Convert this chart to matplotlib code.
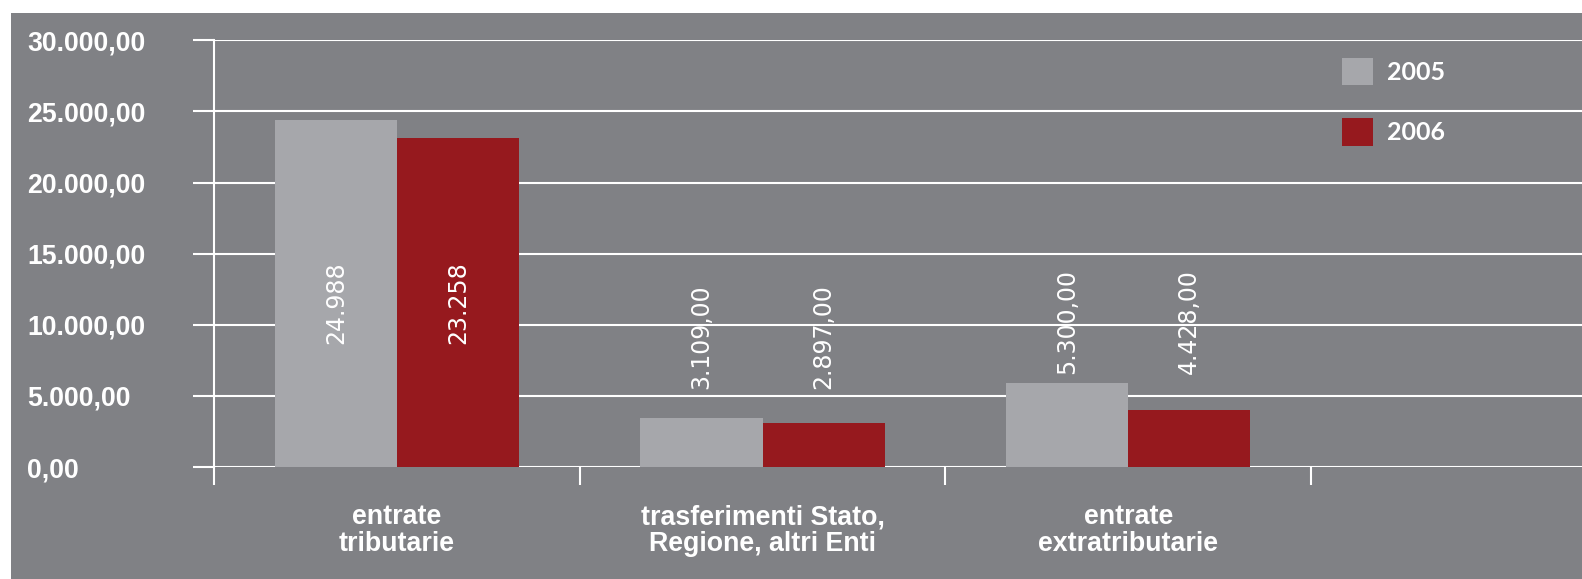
import matplotlib.pyplot as plt
from matplotlib.patches import Rectangle

# dati
categorie = ['entrate\ntributarie', 'trasferimenti Stato,\nRegione, altri Enti', 'entrate\nextratributarie']
valori_2005 = [24381, 3425, 5886]
valori_2006 = [23115, 3073, 3987]
etichette_2005 = ['24.988', '3.109,00', '5.300,00']
etichette_2006 = ['23.258', '2.897,00', '4.428,00']
tick_y = [0, 5000, 10000, 15000, 20000, 25000, 30000]
tick_y_label = ['0,00', '5.000,00', '10.000,00', '15.000,00', '20.000,00', '25.000,00', '30.000,00']
# altezza a cui stanno le etichette dei valori
pos_etichette = [11550, 5460, 6520]

sfondo = '#808185'
grigio = '#a6a7ab'
rosso = '#96191e'

W, H = 1582, 579
passo = 365.7  # larghezza in pixel di una categoria
fig = plt.figure(figsize=(W / 100, H / 100), dpi=100, facecolor='white')
fig.patches.append(Rectangle((11 / W, 0), 1 - 11 / W, 1 - 13 / H, transform=fig.transFigure,
                             facecolor=sfondo, edgecolor='none', zorder=-10))

ax = fig.add_axes([214 / W, (H - 467) / H, (W - 214) / W, (467 - 40.3) / H])
ax.set_zorder(1)
ax.patch.set_alpha(0)

x = list(range(len(categorie)))
w = 0.334
ax.bar([i - w / 2 for i in x], valori_2005, w, color=grigio, label='2005', zorder=3)
ax.bar([i + w / 2 for i in x], valori_2006, w, color=rosso, label='2006', zorder=3)

for i in x:
    ax.text(i - w / 2, pos_etichette[i], etichette_2005[i], rotation=90, color='white',
            ha='center', va='center' if i == 0 else 'bottom', fontsize=17, family='DejaVu Sans', zorder=4)
    ax.text(i + w / 2, pos_etichette[i], etichette_2006[i], rotation=90, color='white',
            ha='center', va='center' if i == 0 else 'bottom', fontsize=17, family='DejaVu Sans', zorder=4)

ax.set_ylim(0, 30000)
ax.set_xlim(-0.5, -0.5 + (W - 214) / passo)
ax.set_yticks(tick_y)
ax.set_yticklabels(tick_y_label)
for lab in ax.get_yticklabels():
    lab.set_horizontalalignment('left')
ax.tick_params(axis='y', length=21 * 0.72, width=1.5, color='white', pad=166 * 0.72,
               labelcolor='white', labelsize=19.2)
for lab in ax.get_yticklabels():
    lab.set_fontweight('bold')
    lab.set_family('Liberation Sans')
ax.yaxis.grid(True, color='white', linewidth=1.5, zorder=1)
ax.set_axisbelow(True)

ax.set_xticks([-0.5, 0.5, 1.5, 2.5])
ax.set_xticklabels([])
ax.tick_params(axis='x', which='major', length=18 * 0.72, width=1.5, color='white')
ax.set_xticks(x, minor=True)
ax.set_xticklabels(categorie, minor=True)
ax.tick_params(axis='x', which='minor', length=0, pad=27, labelcolor='white', labelsize=19.3)
for lab in ax.get_xticklabels(minor=True):
    lab.set_fontweight('bold')
    lab.set_family('Liberation Sans')
    lab.set_linespacing(1.04)

for s in ['top', 'right', 'bottom']:
    ax.spines[s].set_visible(False)
ax.spines['left'].set_color('white')
ax.spines['left'].set_linewidth(1.5)

leg = ax.legend(loc='upper left', bbox_to_anchor=(1342 / W, 1 - 58 / H), bbox_transform=fig.transFigure,
                frameon=False, borderpad=0, borderaxespad=0, handlelength=1.24, handleheight=1.3,
                handletextpad=0.55, labelspacing=1.32,
                prop={'family': 'Lato', 'weight': 'bold', 'size': 18})
for t in leg.get_texts():
    t.set_color('white')

fig.savefig('out.png', dpi=100, facecolor=fig.get_facecolor())
